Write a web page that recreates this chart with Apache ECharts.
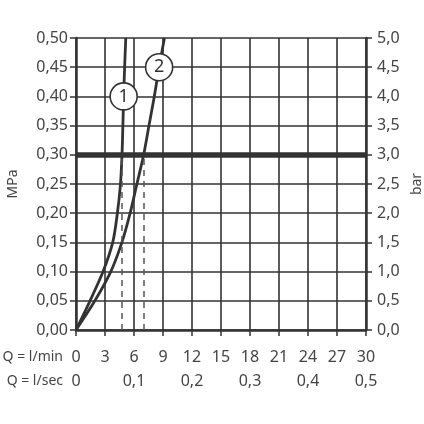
<!DOCTYPE html>
<html>
<head>
<meta charset="utf-8">
<script src="https://cdn.jsdelivr.net/npm/echarts@6/dist/echarts.min.js"></script>
<style>html,body{margin:0;padding:0;background:#fff}#c{width:424px;height:424px}</style>
</head>
<body>
<div id="c"></div>
<script>
// Pressure levels (MPa)
var pressure = [0, 0.05, 0.10, 0.15, 0.20, 0.25, 0.30, 0.35, 0.40, 0.45, 0.50];
// Flow (l/min) for curve 1 and curve 2 at those pressures
var flow1 = [0, 1.45, 2.8, 3.8, 4.28, 4.6, 4.76, 4.85, 4.93, 5.03, 5.15];
var flow2 = [0, 1.95, 3.6, 4.75, 5.6, 6.3, 7.0, 7.55, 8.1, 8.6, 9.15];
var curveNames = ['1', '2'];
var refPressure = 0.30;
var refIndex = 6;         // index of 0.30 MPa in pressure[]
var label1Index = 8;      // circle "1" at 0.40 MPa
var label2Index = 9;      // circle "2" at 0.45 MPa
var xLabelsMin = ['0','3','6','9','12','15','18','21','24','27','30'];
var xLabelsSec = ['0','0,1','0,2','0,3','0,4','0,5'];

var FONT = 'Noto Sans';
var TXT = '#444444';
var LINE = '#333333';

function pts(q) { return pressure.map(function (p, i) { return [q[i], p]; }); }

var chart = echarts.init(document.getElementById('c'), null, {renderer: 'canvas'});
var circle = function (name, q, idx) {
  return {
    symbol: 'circle', symbolSize: 27, silent: true,
    itemStyle: {color: '#fff', borderColor: LINE, borderWidth: 1.6},
    label: {show: true, formatter: name, color: LINE, fontSize: 18, fontFamily: FONT},
    data: [{coord: [q[idx], pressure[idx]]}]
  };
};
chart.setOption({
  animation: false,
  textStyle: {fontFamily: FONT},
  grid: {left: 76, right: 58, top: 38, bottom: 94, containLabel: false, outerBoundsMode: 'none'},
  graphic: [
    {type: 'text', x: 63, y: 357, style: {text: 'Q = l/min', fill: TXT, font: '14px "Noto Sans"', textAlign: 'right', textVerticalAlign: 'middle'}},
    {type: 'text', x: 63, y: 381, style: {text: 'Q = l/sec', fill: TXT, font: '14px "Noto Sans"', textAlign: 'right', textVerticalAlign: 'middle'}}
  ],
  xAxis: [{
    type: 'value', min: 0, max: 30, interval: 3, position: 'bottom',
    axisLine: {show: true, onZero: false, lineStyle: {color: LINE, width: 2.5}},
    axisTick: {show: true, length: 6, lineStyle: {color: LINE, width: 1.5}},
    splitLine: {show: true, lineStyle: {color: LINE, width: 1.6}},
    axisLabel: {color: TXT, fontSize: 16, margin: 19, fontFamily: FONT, hideOverlap: false,
      formatter: function (v, i) { return xLabelsMin[i]; }}
  }, {
    type: 'value', min: 0, max: 0.5, interval: 0.1, position: 'bottom', offset: 24,
    axisLine: {show: false}, axisTick: {show: false}, splitLine: {show: false},
    axisLabel: {color: TXT, fontSize: 16, margin: 19, fontFamily: FONT, hideOverlap: false,
      formatter: function (v, i) { return xLabelsSec[i]; }}
  }],
  yAxis: [{
    type: 'value', min: 0, max: 0.5, interval: 0.05, position: 'left',
    name: 'MPa', nameLocation: 'middle', nameRotate: 90, nameGap: 56,
    nameTextStyle: {color: TXT, fontSize: 14, fontFamily: FONT},
    axisLine: {show: true, onZero: false, lineStyle: {color: LINE, width: 2.5}},
    axisTick: {show: true, length: 6, lineStyle: {color: LINE, width: 1.5}},
    splitLine: {show: true, lineStyle: {color: LINE, width: 1.6}},
    axisLabel: {color: TXT, fontSize: 16, margin: 8, fontFamily: FONT, hideOverlap: false,
      formatter: function (v) { return v.toFixed(2).replace('.', ','); }}
  }, {
    type: 'value', min: 0, max: 5, interval: 0.5, position: 'right',
    name: 'bar', nameLocation: 'middle', nameRotate: 90, nameGap: 37,
    nameTextStyle: {color: TXT, fontSize: 14, fontFamily: FONT},
    axisLine: {show: true, onZero: false, lineStyle: {color: LINE, width: 2.5}},
    axisTick: {show: true, length: 6, lineStyle: {color: LINE, width: 1.5}},
    splitLine: {show: false},
    axisLabel: {color: TXT, fontSize: 16, margin: 11, fontFamily: FONT, hideOverlap: false,
      formatter: function (v) { return v.toFixed(1).replace('.', ','); }}
  }],
  series: [{
    name: curveNames[0], type: 'line', xAxisIndex: 0, yAxisIndex: 0,
    data: pts(flow1), smooth: 0.3, showSymbol: false, symbol: 'none',
    lineStyle: {color: LINE, width: 2.8},
    markLine: {
      silent: true, symbol: 'none', label: {show: false},
      data: [
        {yAxis: refPressure, lineStyle: {color: LINE, width: 5.5, type: 'solid'}},
        [{coord: [flow1[refIndex], 0], lineStyle: {color: '#555', width: 1.5, type: [6, 5]}},
         {coord: [flow1[refIndex], refPressure]}],
        [{coord: [flow2[refIndex], 0], lineStyle: {color: '#555', width: 1.5, type: [6, 5]}},
         {coord: [flow2[refIndex], refPressure]}]
      ]
    },
    markPoint: circle(curveNames[0], flow1, label1Index),
    z: 3
  }, {
    name: curveNames[1], type: 'line', xAxisIndex: 0, yAxisIndex: 0,
    data: pts(flow2), smooth: 0.3, showSymbol: false, symbol: 'none',
    lineStyle: {color: LINE, width: 2.8},
    markPoint: circle(curveNames[1], flow2, label2Index),
    z: 3
  }]
});
</script>
</body>
</html>
